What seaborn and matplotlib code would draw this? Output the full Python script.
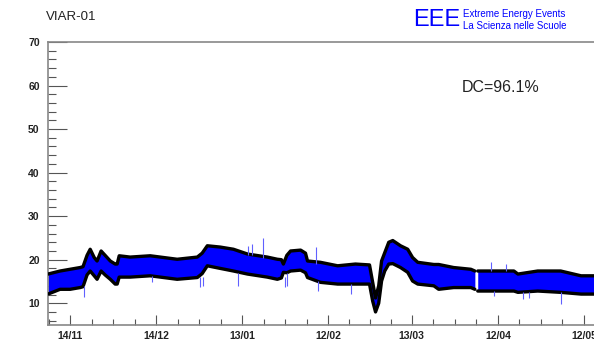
import numpy as np
import pandas as pd
import matplotlib
matplotlib.use("Agg")
import matplotlib.pyplot as plt
from matplotlib.ticker import MultipleLocator, FixedLocator
import seaborn as sns

sns.set_style("white")
plt.rcParams['font.family'] = ['Liberation Sans', 'DejaVu Sans']

# ---- data (x = days since 2014-11-14) ----
env_days = [-7.7, -3.5, 0.0, 3.5, 4.5, 5.9, 7.0, 8.4, 9.4, 10.8, 12.2, 14.0, 15.7, 16.4,
            17.1, 20.9, 27.9, 37.3, 44.3, 46.0, 47.8, 52.3, 56.9, 61.8, 68.7, 72.2, 73.6,
            74.3, 75.5, 76.8, 80.3, 82.0, 82.7, 87.2, 93.2, 99.4, 104.3, 105.4, 106.4,
            107.5, 108.5, 109.6, 111.0, 112.4, 115.1, 117.6, 119.3, 121.1, 126.7, 128.4,
            133.6, 139.6, 141.0]
env_upper = [16.7, 17.4, 17.8, 18.2, 18.4, 21.0, 22.4, 20.5, 19.7, 22.0, 21.0, 19.7, 19.0, 19.0,
             20.9, 20.6, 20.9, 20.1, 20.6, 21.5, 23.2, 22.9, 22.4, 21.3, 20.6, 20.1, 20.0,
             19.0, 21.0, 22.0, 22.2, 21.5, 19.7, 19.4, 18.6, 19.0, 18.8, 14.8, 11.2,
             14.0, 19.7, 21.6, 24.0, 24.4, 23.2, 22.4, 20.5, 19.4, 18.9, 18.9,
             18.2, 17.8, 17.4]
env_lower = [12.1, 13.2, 13.2, 13.6, 13.8, 16.5, 17.4, 16.3, 15.5, 17.4, 16.5, 15.5, 14.4, 14.4,
             16.0, 16.0, 16.3, 15.5, 15.9, 16.8, 18.6, 18.0, 17.4, 16.7, 16.0, 15.5, 15.8,
             17.1, 17.0, 17.4, 17.6, 17.0, 15.9, 14.8, 14.4, 14.4, 14.4, 10.5, 8.0,
             10.0, 15.1, 17.4, 19.0, 19.1, 18.2, 17.1, 15.1, 14.4, 14.0, 13.2,
             13.6, 13.6, 13.2]
env2_days = [142.0, 154.6, 156.0, 162.9, 170.9, 178.0, 183.5]
env2_upper = [17.4, 17.4, 16.7, 17.4, 17.4, 16.3, 16.3]
env2_lower = [12.8, 12.8, 12.5, 12.8, 12.5, 12.1, 12.1]

spike_days = [4.9, 28.6, 45.4, 46.4, 58.6, 62.1, 63.5, 67.3, 75.0, 75.7, 85.8, 86.2, 98.0,
              146.5, 147.6, 151.8, 157.7, 159.8, 171.0]
spike_lo = [11.4, 14.8, 13.7, 14.0, 14.0, 21.0, 21.0, 20.5, 13.7, 14.0, 19.0, 12.8, 12.1,
            17.4, 11.6, 17.4, 11.0, 11.2, 9.8]
spike_hi = [14.0, 16.3, 16.0, 16.0, 17.0, 23.2, 23.6, 25.0, 16.0, 17.0, 22.9, 15.0, 14.4,
            19.4, 12.8, 19.0, 12.5, 12.5, 12.5]

tick_days = [0, 30, 60, 90, 119, 149, 179]
tick_labels = ["14/11", "14/12", "13/01", "12/02", "13/03", "12/04", "12/05"]
x_range_days = [-7.7, 182.5]
y_range = [5, 70]
station = "VIAR-01"
dc_text = "DC=96.1%"

fig = plt.figure(figsize=(5.94, 3.44), dpi=100)
ax = fig.add_axes([48/594, 19/344, 546/594, 283/344])

blue = "#0000ff"
for days, up, lo in [(env_days, env_upper, env_lower), (env2_days, env2_upper, env2_lower)]:
    ax.fill_between(days, lo, up, color=blue, lw=0, zorder=2)
    df = pd.DataFrame({"t": days, "up": up, "lo": lo})
    sns.lineplot(data=df, x="t", y="up", color="black", lw=2.4, ax=ax, zorder=3)
    sns.lineplot(data=df, x="t", y="lo", color="black", lw=2.4, ax=ax, zorder=3)

ax.vlines(spike_days, spike_lo, spike_hi, color="#6060ff", lw=0.8, zorder=4)

ax.set_xlim(*x_range_days)
ax.set_ylim(*y_range)
ax.set_xticks(tick_days)
ax.set_xticklabels(tick_labels)
minor_days = [-7.5]
for a, b in zip(tick_days[:-1], tick_days[1:]):
    minor_days += [a + (b - a) * k / 4 for k in (1, 2, 3)]
ax.xaxis.set_minor_locator(FixedLocator(minor_days))
ax.set_yticks([10, 20, 30, 40, 50, 60, 70])
ax.yaxis.set_minor_locator(MultipleLocator(2))

ax.tick_params(axis="both", which="both", bottom=True, left=True, top=False, right=False)
ax.tick_params(axis="x", which="major", direction="in", length=7, width=0.8,
               color="#555555", labelsize=7.5, pad=4)
ax.tick_params(axis="x", which="minor", direction="in", length=4, width=0.8, color="#555555")
ax.tick_params(axis="y", which="major", direction="in", length=14, width=0.8,
               color="#555555", labelsize=7.5, pad=6)
ax.tick_params(axis="y", which="minor", direction="in", length=6, width=0.8, color="#555555")
for lab in ax.get_xticklabels() + ax.get_yticklabels():
    lab.set_fontweight("bold")
    lab.set_color("#222222")
ax.set_xlabel("")
ax.set_ylabel("")

for s in ["top", "bottom", "left", "right"]:
    ax.spines[s].set_color("#888888")
    ax.spines[s].set_linewidth(1.2)
ax.spines["right"].set_visible(False)

fig.text(46/594, 1 - 17/344, station, fontsize=9.5, color="#222222", va="center", ha="left")
fig.text(462/594, 1 - 88/344, dc_text, fontsize=11.5, color="#222222", va="center", ha="left")
fig.text(413/594, 1 - 20/344, "EEE", fontsize=17, color=blue, va="center", ha="left")
fig.text(463/594, 1 - 14/344, "Extreme Energy Events", fontsize=7, color=blue,
         va="center", ha="left")
fig.text(463/594, 1 - 26/344, "La Scienza nelle Scuole", fontsize=7, color=blue,
         va="center", ha="left")

fig.savefig("out.png", dpi=100)
